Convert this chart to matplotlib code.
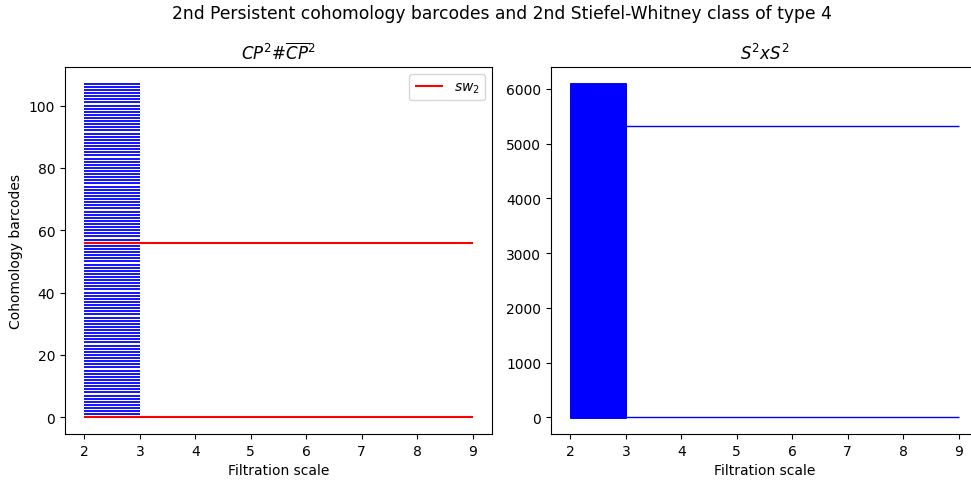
import matplotlib
matplotlib.use("Agg")
import matplotlib.pyplot as plt
import numpy as np

# barcode data: every bar is born at 2 and dies at 3, except the persistent ones
birth = 2
death = 3
end_scale = 9

n_bars_cp = 108          # CP^2 # CP^2-bar
long_bars_cp = [0, 56]   # bars that live until the end of the filtration
sw2_cp = [0, 56]         # where the 2nd Stiefel-Whitney class sits

n_bars_s2 = 6096         # S^2 x S^2
long_bars_s2 = [0, 5328]

def draw_barcodes(ax, n_bars, long_bars, lw=1.3):
    ys = np.arange(n_bars)
    ends = np.full(n_bars, death, dtype=float)
    ends[long_bars] = end_scale
    ax.hlines(ys, birth, ends, color="blue", linewidth=lw)

fig = plt.figure(figsize=(9.71, 4.81), dpi=100)
# the right panel runs a bit past the edge of the picture, as in the original
ax1 = fig.add_axes([0.0669, 0.0956, 0.4397, 0.763])
ax2 = fig.add_axes([0.5675, 0.0956, 0.4397, 0.763])

# left
draw_barcodes(ax1, n_bars_cp, long_bars_cp)
ax1.hlines(sw2_cp, birth, end_scale, color="red", linewidth=1.5, label="$sw_2$")
ax1.legend(loc="upper right")
ax1.set_title(r"$CP^2\#\overline{CP}^2$")
ax1.set_xlabel("Filtration scale")
ax1.set_ylabel("Cohomology barcodes")

# right
draw_barcodes(ax2, n_bars_s2, long_bars_s2, lw=1)
ax2.set_title("$S^2xS^2$")
ax2.set_xlabel("Filtration scale")

fig.suptitle("2nd Persistent cohomology barcodes and 2nd Stiefel-Whitney class of type 4",
             x=0.5165, y=0.99, fontsize=12.3)

fig.savefig("out.png", dpi=100)
